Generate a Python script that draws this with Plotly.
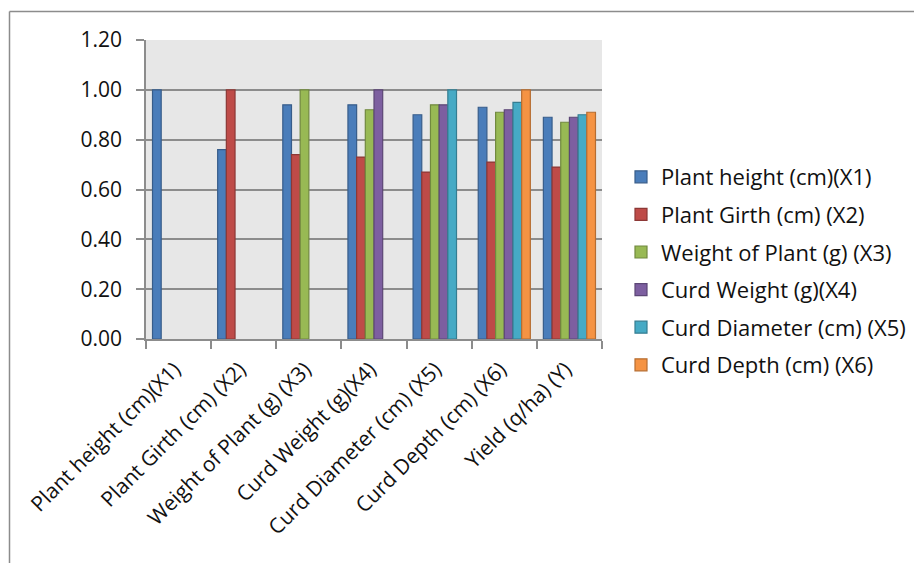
import plotly.graph_objects as go

categories = ["Plant height (cm)(X1)", "Plant Girth (cm) (X2)", "Weight of Plant (g) (X3)",
              "Curd Weight (g)(X4)", "Curd Diameter (cm) (X5)", "Curd Depth (cm) (X6)",
              "Yield (q/ha) (Y)"]
series_names = ["Plant height (cm)(X1)", "Plant Girth (cm) (X2)", "Weight of Plant (g) (X3)",
                "Curd Weight (g)(X4)", "Curd Diameter (cm) (X5)", "Curd Depth (cm) (X6)"]
x1 = [1.00, 0.76, 0.94, 0.94, 0.90, 0.93, 0.89]
x2 = [None, 1.00, 0.74, 0.73, 0.67, 0.71, 0.69]
x3 = [None, None, 1.00, 0.92, 0.94, 0.91, 0.87]
x4 = [None, None, None, 1.00, 0.94, 0.92, 0.89]
x5 = [None, None, None, None, 1.00, 0.95, 0.90]
x6 = [None, None, None, None, None, 1.00, 0.91]
values = [x1, x2, x3, x4, x5, x6]
y_ticks = [0.0, 0.2, 0.4, 0.6, 0.8, 1.0, 1.2]

fills = ["#4A7DBA", "#BE4B48", "#98B954", "#7D5FA0", "#46AAC5", "#F59343"]
lines = ["#385D8A", "#8C3836", "#71893F", "#5C4776", "#357D91", "#B66D31"]

FONT = "Open Sans, Lato, sans-serif"
OFF = 8  # page body margin offset
W, H = 922, 563
pl, pr, pt, pb = 146, 602, 40, 339  # plot area in screenshot px
L = pl - OFF
T = pt - OFF
pw, ph = pr - pl, pb - pt
R = W - L - pw
B = H - T - ph

fig = go.Figure()
for i, (name, vals) in enumerate(zip(series_names, values)):
    fig.add_trace(go.Bar(
        x=categories, y=vals, name=name, legendgroup=name,
        marker=dict(color=fills[i], line=dict(color=lines[i], width=1.2)),
    ))

def px_x(p):
    return (p - pl) / pw

def px_y(p):
    return (pb - p) / ph

fig.update_layout(
    width=W, height=H,
    margin=dict(l=L, r=R, t=T, b=B, autoexpand=False),
    barmode="group", bargap=0.2, bargroupgap=0.0,
    paper_bgcolor="white", plot_bgcolor="#E7E7E7",
    font=dict(family=FONT, size=21, color="#111111"),
    legend=dict(x=px_x(621), y=px_y(271), xanchor="left", yanchor="middle",
                font=dict(family=FONT, size=22, color="#111111"),
                tracegroupgap=6, bgcolor="rgba(0,0,0,0)"),
    xaxis=dict(type="category", tickangle=-45, tickson="boundaries", ticks="outside",
               ticklen=8, tickcolor="#8C8C8C", tickwidth=1.5,
               showline=True, linecolor="#8C8C8C", linewidth=1.5,
               ticklabelshift=-4, ticklabelstandoff=8,
               showgrid=False, tickfont=dict(family=FONT, size=21, color="#111111")),
    yaxis=dict(range=[0, 1.2], tickvals=y_ticks, tickformat=".2f",
               ticks="outside", ticklen=8, tickcolor="#8C8C8C", tickwidth=1.5,
               showline=True, linecolor="#8C8C8C", linewidth=1.5,
               showgrid=True, gridcolor="#8C8C8C", gridwidth=1.5,
               ticklabelstandoff=10,
               zeroline=False, tickfont=dict(family=FONT, size=21, color="#111111")),
    shapes=[
        dict(type="line", xref="paper", yref="paper", x0=px_x(9.5), x1=px_x(940),
             y0=px_y(11.5), y1=px_y(11.5), line=dict(color="#8C8C8C", width=1.5)),
        dict(type="line", xref="paper", yref="paper", x0=px_x(9.5), x1=px_x(9.5),
             y0=px_y(11.5), y1=px_y(580), line=dict(color="#8C8C8C", width=1.5)),
    ],
)

fig.write_html("out.html")
